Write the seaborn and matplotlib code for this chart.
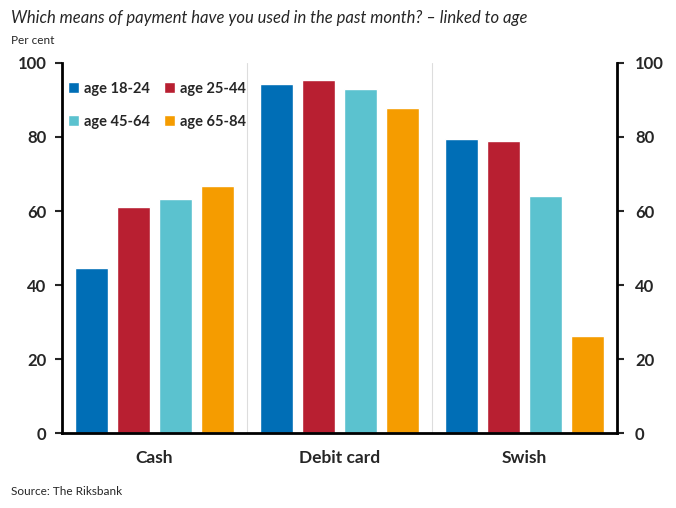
import pandas as pd
import seaborn as sns
import matplotlib.pyplot as plt

categories = ["Cash", "Debit card", "Swish"]
age_groups = ["age 18-24", "age 25-44", "age 45-64", "age 65-84"]
age_18_24 = [44.6, 94.3, 79.5]
age_25_44 = [61.0, 95.3, 79.0]
age_45_64 = [63.2, 93.0, 64.0]
age_65_84 = [66.8, 87.8, 26.2]
colors = ["#006EB6", "#B81F31", "#5BC2CF", "#F59C00"]

# long format for seaborn
rows = []
for group, vals in zip(age_groups, [age_18_24, age_25_44, age_45_64, age_65_84]):
    for cat, v in zip(categories, vals):
        rows.append({"Category": cat, "Age": group, "Value": v})
df = pd.DataFrame(rows)

sns.set_style("white")
plt.rcParams["font.family"] = ["Lato", "DejaVu Sans"]

fig = plt.figure(figsize=(6.76, 5.08), dpi=100)
ax = fig.add_axes([0.0917, 0.1476, 0.821, 0.7284])

sns.barplot(data=df, x="Category", y="Value", hue="Age", order=categories,
            hue_order=age_groups, palette=colors, width=0.91, gap=0.21,
            saturation=1, ax=ax)

ax.set_ylim(0, 100)
ax.set_xlim(-0.5, 2.5)
ax.set_yticks([0, 20, 40, 60, 80, 100])
ax.set_xlabel("")
ax.set_ylabel("")

# separators between categories
for xpos in [0.5, 1.5]:
    ax.axvline(xpos, color="#dddddd", lw=0.8, zorder=0)
ax.set_xticks([0, 1, 2])
ax.set_xticklabels(categories, fontsize=12.5, fontweight="bold")
ax.tick_params(axis="x", length=0, pad=12)
ax.set_xticks([0.5, 1.5], minor=True)
ax.tick_params(axis="x", which="minor", length=5, width=1.2, direction="in")

ax.tick_params(axis="y", length=5, width=1.5, direction="out", labelsize=12, pad=6)
for lbl in ax.get_yticklabels():
    lbl.set_fontweight("bold")

for side in ["left", "bottom"]:
    ax.spines[side].set_linewidth(2)
    ax.spines[side].set_color("black")
ax.spines["top"].set_visible(False)
ax.spines["right"].set_visible(False)

ax2 = ax.twinx()
ax2.set_ylim(0, 100)
ax2.set_yticks([0, 20, 40, 60, 80, 100])
ax2.tick_params(axis="y", length=5, width=1.5, direction="out", labelsize=12, pad=8)
for lbl in ax2.get_yticklabels():
    lbl.set_fontweight("bold")
ax2.spines["right"].set_linewidth(2)
ax2.spines["right"].set_color("black")
for side in ["top", "left", "bottom"]:
    ax2.spines[side].set_visible(False)

# legend filled row by row
handles, labels = ax.get_legend_handles_labels()
order = [0, 2, 1, 3]
ax.legend([handles[i] for i in order], [labels[i] for i in order],
          loc="upper left", ncol=2, frameon=False, handlelength=0.75,
          handleheight=0.75, handletextpad=0.35, columnspacing=0.9,
          labelspacing=1.3, bbox_to_anchor=(-0.012, 0.985),
          prop={"weight": "bold", "size": 10.5})

fig.text(0.017, 0.965, "Which means of payment have you used in the past month? \u2013 linked to age",
         fontsize=12, fontstyle="italic", va="center")
fig.text(0.017, 0.921, "Per cent", fontsize=8.5, va="center")
fig.text(0.017, 0.032, "Source: The Riksbank", fontsize=8.5, va="center")

fig.savefig("out.png", dpi=100)
